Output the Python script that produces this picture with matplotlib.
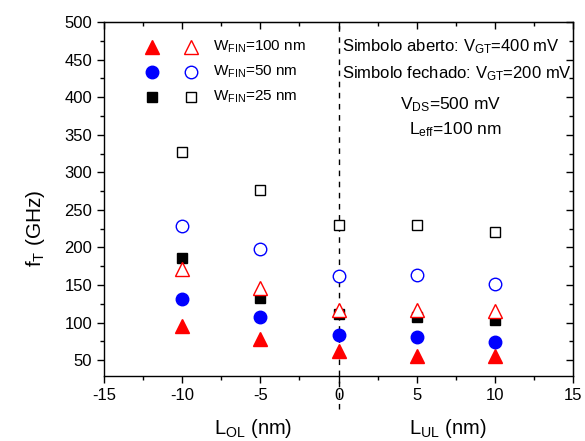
import matplotlib
matplotlib.use("Agg")
import matplotlib.pyplot as plt
from matplotlib.ticker import MultipleLocator

plt.rcParams['font.family'] = ['Liberation Sans', 'DejaVu Sans']
plt.rcParams['mathtext.fontset'] = 'custom'
plt.rcParams['mathtext.rm'] = 'Liberation Sans'
plt.rcParams['mathtext.it'] = 'Liberation Sans'
plt.rcParams['axes.unicode_minus'] = False

# Lengths (nm): negative = overlap L_OL, positive = underlap L_UL
length_nm = [-10, -5, 0, 5, 10]

# f_T (GHz), closed symbols: V_GT = 200 mV
ft_w100_vgt200 = [96, 78, 62, 55, 56]
ft_w50_vgt200 = [132, 107, 84, 81, 74]
ft_w25_vgt200 = [186, 133, 111, 108, 104]

# f_T (GHz), open symbols: V_GT = 400 mV
ft_w100_vgt400 = [172, 146, 117, 117, 115]
ft_w50_vgt400 = [228, 198, 162, 164, 152]
ft_w25_vgt400 = [327, 276, 230, 230, 221]

legend_labels = [r"W$_{\mathrm{FIN}}$=100 nm", r"W$_{\mathrm{FIN}}$=50 nm", r"W$_{\mathrm{FIN}}$=25 nm"]

RED = '#ff0000'
BLUE = '#0000ff'
BLACK = '#000000'

fig = plt.figure(figsize=(5.85, 4.41), dpi=100)
ax = fig.add_axes([0.1778, 0.1474, 0.8017, 0.8027])

styles = [
    ('^', RED, 10),
    ('o', BLUE, 9),
    ('s', BLACK, 7.5),
]
closed = [ft_w100_vgt200, ft_w50_vgt200, ft_w25_vgt200]
opened = [ft_w100_vgt400, ft_w50_vgt400, ft_w25_vgt400]

for (mk, col, ms), yc, yo in zip(styles, closed, opened):
    ax.plot(length_nm, yc, linestyle='none', marker=mk, ms=ms, color=col,
            mec=col, mfc=col, zorder=3)
    ax.plot(length_nm, yo, linestyle='none', marker=mk, ms=ms, color=col,
            mec=col, mfc='white', mew=1.0, zorder=4)

# Dashed separator between overlap and underlap regions
ax.axvline(0, ymin=-0.093, ymax=1.0, color='black', linestyle=(0, (4, 4)),
           linewidth=1.0, clip_on=False, zorder=2)

ax.set_xlim(-15, 15)
ax.set_ylim(29, 500)
ax.xaxis.set_major_locator(MultipleLocator(5))
ax.xaxis.set_minor_locator(MultipleLocator(2.5))
ax.yaxis.set_major_locator(MultipleLocator(50))
ax.yaxis.set_minor_locator(MultipleLocator(25))
ax.set_yticks(range(50, 501, 50))

ax.tick_params(axis='both', which='major', direction='out', length=5, width=1,
               labelsize=12, top=False, right=False)
ax.tick_params(axis='both', which='minor', direction='out', length=3, width=1,
               top=False, right=False)
for sp in ax.spines.values():
    sp.set_linewidth(1.0)

# Inward ticks on the top and right spines
sec_x = ax.secondary_xaxis('top')
sec_x.xaxis.set_major_locator(MultipleLocator(5))
sec_x.xaxis.set_minor_locator(MultipleLocator(2.5))
sec_x.tick_params(which='major', direction='in', length=5, width=1,
                  labeltop=False)
sec_x.tick_params(which='minor', direction='in', length=3, width=1)
sec_y = ax.secondary_yaxis('right')
sec_y.yaxis.set_major_locator(MultipleLocator(50))
sec_y.yaxis.set_minor_locator(MultipleLocator(25))
sec_y.tick_params(which='major', direction='in', length=5, width=1,
                  labelright=False)
sec_y.tick_params(which='minor', direction='in', length=3, width=1)

ax.text(-0.147, 0.418, r"f$_{\mathrm{T}}$ (GHz)", transform=ax.transAxes,
        ha='center', va='center', rotation=90, fontsize=15)
ax.text(0.318, -0.147, r"L$_{\mathrm{OL}}$ (nm)", transform=ax.transAxes,
        ha='center', va='center', fontsize=14.5)
ax.text(0.733, -0.147, r"L$_{\mathrm{UL}}$ (nm)", transform=ax.transAxes,
        ha='center', va='center', fontsize=14.5)

# Legend: closed / open symbol pairs per fin width
rows_y = [0.929, 0.859, 0.788]
for (mk, col, ms), label, yy in zip(styles, legend_labels, rows_y):
    ax.plot([0.1023], [yy], transform=ax.transAxes, marker=mk, ms=ms,
            color=col, mfc=col, linestyle='none', clip_on=False)
    ax.plot([0.1855], [yy], transform=ax.transAxes, marker=mk, ms=ms,
            color=col, mfc='white', mew=1.0, linestyle='none', clip_on=False)
    ax.text(0.2324, yy, label, transform=ax.transAxes, ha='left',
            va='center', fontsize=11)

ax.text(0.5075, 0.929, r"Simbolo aberto: V$_{\mathrm{GT}}$=400 mV",
        transform=ax.transAxes, ha='left', va='center', fontsize=12)
ax.text(0.5075, 0.853, r"Simbolo fechado: V$_{\mathrm{GT}}$=200 mV",
        transform=ax.transAxes, ha='left', va='center', fontsize=12)
ax.text(0.738, 0.7655, r"V$_{\mathrm{DS}}$=500 mV",
        transform=ax.transAxes, ha='center', va='center', fontsize=12.5)
ax.text(0.75, 0.695, r"L$_{\mathrm{eff}}$=100 nm",
        transform=ax.transAxes, ha='center', va='center', fontsize=12.5)

fig.savefig("out.png", dpi=100)
